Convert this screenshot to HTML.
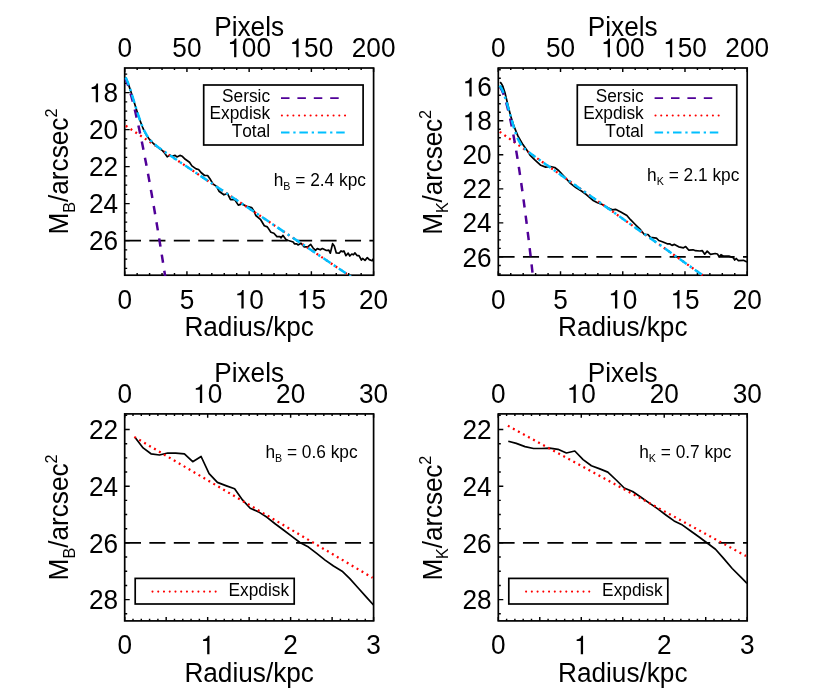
<!DOCTYPE html>
<html><head><meta charset="utf-8"><title>Surface brightness profiles</title>
<style>html,body{margin:0;padding:0;background:#fff}svg{display:block;will-change:transform}text{font-family:"Liberation Sans", sans-serif;fill:#000;font-kerning:none}</style></head><body>
<svg width="830" height="691" viewBox="0 0 830 691">
<rect width="830" height="691" fill="#fff"/>
<clipPath id="cTL"><rect x="123.80" y="67.10" width="250.70" height="209.00"/></clipPath>
<path d="M124.70,275.20v-3.90M137.15,275.20v-2.10M149.59,275.20v-2.10M162.03,275.20v-2.10M174.48,275.20v-2.10M186.93,275.20v-3.90M199.37,275.20v-2.10M211.81,275.20v-2.10M224.26,275.20v-2.10M236.71,275.20v-2.10M249.15,275.20v-3.90M261.60,275.20v-2.10M274.04,275.20v-2.10M286.49,275.20v-2.10M298.93,275.20v-2.10M311.38,275.20v-3.90M323.82,275.20v-2.10M336.26,275.20v-2.10M348.71,275.20v-2.10M361.16,275.20v-2.10M373.60,275.20v-3.90M124.70,68.00v3.90M137.15,68.00v2.10M149.59,68.00v2.10M162.04,68.00v2.10M174.48,68.00v2.10M186.93,68.00v3.90M199.37,68.00v2.10M211.82,68.00v2.10M224.26,68.00v2.10M236.71,68.00v2.10M249.15,68.00v3.90M261.60,68.00v2.10M274.04,68.00v2.10M286.49,68.00v2.10M298.93,68.00v2.10M311.38,68.00v3.90M323.82,68.00v2.10M336.27,68.00v2.10M348.71,68.00v2.10M361.16,68.00v2.10M373.60,68.00v3.90M124.70,74.10h2.50M124.70,83.35h2.50M124.70,92.60h5.00M124.70,101.85h2.50M124.70,111.10h2.50M124.70,120.35h2.50M124.70,129.60h5.00M124.70,138.85h2.50M124.70,148.10h2.50M124.70,157.35h2.50M124.70,166.60h5.00M124.70,175.85h2.50M124.70,185.10h2.50M124.70,194.35h2.50M124.70,203.60h5.00M124.70,212.85h2.50M124.70,222.10h2.50M124.70,231.35h2.50M124.70,240.60h5.00M124.70,249.85h2.50M124.70,259.10h2.50M124.70,268.35h2.50" fill="none" stroke="#000" stroke-width="1.44"/>
<rect x="124.70" y="68.00" width="248.90" height="207.20" fill="none" stroke="#000" stroke-width="1.7"/>
<text transform="translate(124.70,308.60) scale(1,1.04)" text-anchor="middle" font-size="26.2">0</text>
<text transform="translate(186.93,308.60) scale(1,1.04)" text-anchor="middle" font-size="26.2">5</text>
<path transform="translate(234.58,308.60) scale(26.2,-26.2)" d="M.259,.505L.259,0L.347,0L.347,.709L.289,.709C.272,.625 .215,.575 .102,.568L.102,.505Z"/>
<text transform="translate(249.15,308.60) scale(1,1.04)" font-size="26.2">0</text>
<path transform="translate(296.80,308.60) scale(26.2,-26.2)" d="M.259,.505L.259,0L.347,0L.347,.709L.289,.709C.272,.625 .215,.575 .102,.568L.102,.505Z"/>
<text transform="translate(311.38,308.60) scale(1,1.04)" font-size="26.2">5</text>
<text transform="translate(373.60,308.60) scale(1,1.04)" text-anchor="middle" font-size="26.2">20</text>
<text transform="translate(124.70,57.20) scale(1,1.04)" text-anchor="middle" font-size="26.2">0</text>
<text transform="translate(186.93,57.20) scale(1,1.04)" text-anchor="middle" font-size="26.2">50</text>
<path transform="translate(227.29,57.20) scale(26.2,-26.2)" d="M.259,.505L.259,0L.347,0L.347,.709L.289,.709C.272,.625 .215,.575 .102,.568L.102,.505Z"/>
<text transform="translate(241.86,57.20) scale(1,1.04)" font-size="26.2">0</text>
<text transform="translate(256.44,57.20) scale(1,1.04)" font-size="26.2">0</text>
<path transform="translate(289.52,57.20) scale(26.2,-26.2)" d="M.259,.505L.259,0L.347,0L.347,.709L.289,.709C.272,.625 .215,.575 .102,.568L.102,.505Z"/>
<text transform="translate(304.09,57.20) scale(1,1.04)" font-size="26.2">5</text>
<text transform="translate(318.66,57.20) scale(1,1.04)" font-size="26.2">0</text>
<text transform="translate(373.60,57.20) scale(1,1.04)" text-anchor="middle" font-size="26.2">200</text>
<path transform="translate(88.96,102.20) scale(26.2,-26.2)" d="M.259,.505L.259,0L.347,0L.347,.709L.289,.709C.272,.625 .215,.575 .102,.568L.102,.505Z"/>
<text transform="translate(103.53,102.20) scale(1,1.04)" font-size="26.2">8</text>
<text transform="translate(118.10,139.20) scale(1,1.04)" text-anchor="end" font-size="26.2">20</text>
<text transform="translate(118.10,176.20) scale(1,1.04)" text-anchor="end" font-size="26.2">22</text>
<text transform="translate(118.10,213.20) scale(1,1.04)" text-anchor="end" font-size="26.2">24</text>
<text transform="translate(118.10,250.20) scale(1,1.04)" text-anchor="end" font-size="26.2">26</text>
<text transform="translate(249.15,335.90) scale(1,1.02)" text-anchor="middle" font-size="26.2">Radius/kpc</text>
<text transform="translate(249.15,35.70) scale(1,1.02)" text-anchor="middle" font-size="26.2">Pixels</text>
<text transform="translate(68.3,171.6) rotate(-90) scale(1,1.03)" text-anchor="middle" font-size="26.2">M<tspan font-size="16.2" dy="6.2">B</tspan><tspan dy="-6.2">/arcsec</tspan><tspan font-size="16.2" dy="-10.5">2</tspan></text>
<g clip-path="url(#cTL)">
<path d="M124.90,240.60H373.60" stroke="#000" stroke-width="1.8" stroke-dasharray="16.1 8.35" fill="none"/>
<polyline points="125.5,77.5 126.5,79.5 127.5,81.9 128.5,84.6 129.5,87.4 130.5,90.4 131.5,93.5 132.5,96.7 133.5,100.0 134.5,103.3 135.5,106.6 136.5,109.8 137.5,113.0 138.5,116.0 139.5,119.0 140.5,121.8 141.5,124.5 142.5,127.0 143.5,129.3 144.5,131.4 145.5,133.3 146.5,135.1 147.5,136.7 148.5,138.1 149.5,139.4 150.5,140.6 151.5,141.7 152.5,142.7 153.5,143.6 154.5,144.5 155.5,145.4 156.5,146.2 157.5,146.9 158.5,147.7 159.5,148.4 160.5,149.1 161.5,149.9 162.5,150.6 164.8,153.3 167.2,156.9 169.6,155.1 172.0,156.3 175.1,155.4 176.9,156.9 179.9,155.4 182.3,156.3 185.3,159.3 189.5,162.3 191.9,165.9 196.1,168.9 198.6,169.5 201.0,172.5 204.6,175.5 207.6,175.5 210.6,179.8 213.0,184.0 216.6,186.4 219.0,191.2 223.9,194.8 227.5,193.6 230.5,199.6 234.7,199.6 238.3,205.1 241.9,203.9 246.7,206.3 251.6,207.5 254.0,211.3 255.8,215.5 260.7,219.7 264.3,225.7 267.3,226.9 270.9,232.3 273.9,233.3 276.9,236.6 279.9,236.6 281.1,237.8 283.0,235.4 286.0,239.6 288.4,240.5 293.2,242.0 294.4,243.8 296.8,243.8 298.0,245.0 301.0,243.2 304.0,246.8 307.7,246.8 310.7,244.4 313.1,248.0 315.5,250.4 317.3,248.6 320.3,249.8 322.4,248.5 326.4,250.5 328.8,250.1 330.3,253.2 332.6,243.7 334.3,246.1 336.3,252.9 339.1,253.2 341.1,250.9 342.7,251.7 343.9,250.9 345.9,255.6 348.2,253.2 349.8,256.0 351.8,254.0 353.4,254.8 355.0,252.9 357.0,255.6 359.0,255.6 361.4,260.0 362.6,258.4 365.0,260.4 367.3,257.6 369.3,259.6 372.1,260.8 373.4,258.8" fill="none" stroke="#000" stroke-width="1.7" stroke-linejoin="round"/>
<polyline points="125.8,125.8 352.0,277.4" fill="none" stroke="#ff0000" stroke-width="2.25" stroke-dasharray="1.95 3.79"/>
<polyline points="125.3,78.8 125.8,79.7 126.3,80.8 126.8,82.0 127.3,83.3 127.8,84.7 128.3,86.1 128.8,87.7 129.3,89.2 129.8,90.9 130.3,92.6 130.8,94.3 131.3,96.1 131.8,97.9 132.3,99.8 132.8,101.7 133.3,103.7 133.8,105.7 134.3,107.7 134.8,109.8 135.3,111.8 135.8,114.0 136.3,116.1 136.8,118.3 137.3,120.5 137.8,122.8 138.3,125.0 138.8,127.3 139.3,129.6 139.8,132.0 140.3,134.4 140.8,136.8 141.3,139.2 141.8,141.6 142.3,144.1 142.8,146.6 143.3,149.1 143.8,151.6 144.3,154.2 144.8,156.8 145.3,159.4 145.8,162.0 146.3,164.6 146.8,167.3 147.3,169.9 147.8,172.6 148.3,175.3 148.8,178.1 149.3,180.8 149.8,183.6 150.3,186.4 150.8,189.2 151.3,192.0 151.8,194.8 152.3,197.7 152.8,200.6 153.3,203.5 153.8,206.4 154.3,209.3 154.8,212.2 155.3,215.2 155.8,218.1 156.3,221.1 156.8,224.1 157.3,227.1 157.8,230.1 158.3,233.2 158.8,236.2 159.3,239.3 159.8,242.4 160.3,245.5 160.8,248.6 161.3,251.7 161.8,254.9 162.3,258.0 162.8,261.2 163.3,264.4 163.8,267.6 164.3,270.8 164.8,274.0 165.3,277.2" fill="none" stroke="#500098" stroke-width="2.5" stroke-dasharray="8.3 8.1" stroke-dashoffset="0.6"/>
<polyline points="125.6,77.4 126.6,79.4 127.6,81.9 128.6,84.5 129.6,87.4 130.6,90.4 131.6,93.6 132.6,96.8 133.6,100.0 134.6,103.3 135.6,106.6 136.6,109.8 137.6,113.0 138.6,116.1 139.6,119.0 140.6,121.8 141.6,124.5 142.6,126.9 143.6,129.2 144.6,131.3 145.6,133.2 146.6,134.9 147.6,136.5 148.6,137.9 149.6,139.2 150.6,140.4 151.6,141.5 152.6,142.5 153.6,143.4 154.6,144.3 155.6,145.1 156.6,145.9 157.6,146.7 158.6,147.5 159.6,148.2 160.6,148.9 161.6,149.6 162.6,150.3 163.6,151.0 164.6,151.7 165.6,152.4 166.6,153.1 167.6,153.7 168.6,154.4 169.6,155.1 170.6,155.8 171.6,156.4 172.6,157.1 173.6,157.8 174.6,158.5 175.6,159.1 176.6,159.8 177.6,160.5 178.6,161.1 179.6,161.8 180.6,162.5 181.6,163.2 182.6,163.8 183.6,164.5 184.6,165.2 352.0,277.4" fill="none" stroke="#00bfff" stroke-width="2.5" stroke-dasharray="8.5 3.85 2.3 3.85"/>
</g>
<rect x="203.7" y="85.0" width="159.4" height="60.0" fill="#fff" stroke="#000" stroke-width="1.7"/>
<text transform="translate(270.10,102.00) scale(1,1.03)" text-anchor="end" font-size="17.3">Sersic</text>
<text transform="translate(270.10,119.30) scale(1,1.03)" text-anchor="end" font-size="17.3">Expdisk</text>
<text transform="translate(270.10,136.60) scale(1,1.03)" text-anchor="end" font-size="17.3">Total</text>
<path d="M281.0,98.1h57.7" stroke="#500098" stroke-width="1.9" stroke-dasharray="8.5 7.9" fill="none"/>
<path d="M281.9,115.5h63.24" stroke="#ff0000" stroke-width="2.1" stroke-linecap="round" stroke-dasharray="0.01 5.73" fill="none"/>
<path d="M281.0,132.5h63.7" stroke="#00bfff" stroke-width="1.9" stroke-dasharray="8.5 3.8 2.3 3.8" fill="none"/>
<text transform="translate(273.7,185.8) scale(1,1.03)" font-size="17.3">h<tspan font-size="10.7" dy="3.9">B</tspan><tspan dy="-3.9"> = 2.4 kpc</tspan></text>
<clipPath id="cTR"><rect x="497.40" y="67.10" width="250.70" height="209.00"/></clipPath>
<path d="M498.30,275.20v-3.90M510.75,275.20v-2.10M523.19,275.20v-2.10M535.63,275.20v-2.10M548.08,275.20v-2.10M560.52,275.20v-3.90M572.97,275.20v-2.10M585.41,275.20v-2.10M597.86,275.20v-2.10M610.31,275.20v-2.10M622.75,275.20v-3.90M635.20,275.20v-2.10M647.64,275.20v-2.10M660.09,275.20v-2.10M672.53,275.20v-2.10M684.98,275.20v-3.90M697.42,275.20v-2.10M709.87,275.20v-2.10M722.31,275.20v-2.10M734.75,275.20v-2.10M747.20,275.20v-3.90M498.30,68.00v3.90M510.75,68.00v2.10M523.19,68.00v2.10M535.63,68.00v2.10M548.08,68.00v2.10M560.52,68.00v3.90M572.97,68.00v2.10M585.42,68.00v2.10M597.86,68.00v2.10M610.31,68.00v2.10M622.75,68.00v3.90M635.20,68.00v2.10M647.64,68.00v2.10M660.09,68.00v2.10M672.53,68.00v2.10M684.98,68.00v3.90M697.42,68.00v2.10M709.87,68.00v2.10M722.31,68.00v2.10M734.76,68.00v2.10M747.20,68.00v3.90M498.30,69.79h2.50M498.30,78.30h2.50M498.30,86.80h5.00M498.30,95.30h2.50M498.30,103.81h2.50M498.30,112.31h2.50M498.30,120.82h5.00M498.30,129.32h2.50M498.30,137.83h2.50M498.30,146.34h2.50M498.30,154.84h5.00M498.30,163.34h2.50M498.30,171.85h2.50M498.30,180.36h2.50M498.30,188.86h5.00M498.30,197.37h2.50M498.30,205.87h2.50M498.30,214.38h2.50M498.30,222.88h5.00M498.30,231.38h2.50M498.30,239.89h2.50M498.30,248.40h2.50M498.30,256.90h5.00M498.30,265.41h2.50M498.30,273.91h2.50" fill="none" stroke="#000" stroke-width="1.44"/>
<rect x="498.30" y="68.00" width="248.90" height="207.20" fill="none" stroke="#000" stroke-width="1.7"/>
<text transform="translate(498.30,308.60) scale(1,1.04)" text-anchor="middle" font-size="26.2">0</text>
<text transform="translate(560.52,308.60) scale(1,1.04)" text-anchor="middle" font-size="26.2">5</text>
<path transform="translate(608.18,308.60) scale(26.2,-26.2)" d="M.259,.505L.259,0L.347,0L.347,.709L.289,.709C.272,.625 .215,.575 .102,.568L.102,.505Z"/>
<text transform="translate(622.75,308.60) scale(1,1.04)" font-size="26.2">0</text>
<path transform="translate(670.40,308.60) scale(26.2,-26.2)" d="M.259,.505L.259,0L.347,0L.347,.709L.289,.709C.272,.625 .215,.575 .102,.568L.102,.505Z"/>
<text transform="translate(684.98,308.60) scale(1,1.04)" font-size="26.2">5</text>
<text transform="translate(747.20,308.60) scale(1,1.04)" text-anchor="middle" font-size="26.2">20</text>
<text transform="translate(498.30,57.20) scale(1,1.04)" text-anchor="middle" font-size="26.2">0</text>
<text transform="translate(560.52,57.20) scale(1,1.04)" text-anchor="middle" font-size="26.2">50</text>
<path transform="translate(600.89,57.20) scale(26.2,-26.2)" d="M.259,.505L.259,0L.347,0L.347,.709L.289,.709C.272,.625 .215,.575 .102,.568L.102,.505Z"/>
<text transform="translate(615.46,57.20) scale(1,1.04)" font-size="26.2">0</text>
<text transform="translate(630.04,57.20) scale(1,1.04)" font-size="26.2">0</text>
<path transform="translate(663.12,57.20) scale(26.2,-26.2)" d="M.259,.505L.259,0L.347,0L.347,.709L.289,.709C.272,.625 .215,.575 .102,.568L.102,.505Z"/>
<text transform="translate(677.69,57.20) scale(1,1.04)" font-size="26.2">5</text>
<text transform="translate(692.26,57.20) scale(1,1.04)" font-size="26.2">0</text>
<text transform="translate(747.20,57.20) scale(1,1.04)" text-anchor="middle" font-size="26.2">200</text>
<path transform="translate(462.56,96.40) scale(26.2,-26.2)" d="M.259,.505L.259,0L.347,0L.347,.709L.289,.709C.272,.625 .215,.575 .102,.568L.102,.505Z"/>
<text transform="translate(477.13,96.40) scale(1,1.04)" font-size="26.2">6</text>
<path transform="translate(462.56,130.42) scale(26.2,-26.2)" d="M.259,.505L.259,0L.347,0L.347,.709L.289,.709C.272,.625 .215,.575 .102,.568L.102,.505Z"/>
<text transform="translate(477.13,130.42) scale(1,1.04)" font-size="26.2">8</text>
<text transform="translate(491.70,164.44) scale(1,1.04)" text-anchor="end" font-size="26.2">20</text>
<text transform="translate(491.70,198.46) scale(1,1.04)" text-anchor="end" font-size="26.2">22</text>
<text transform="translate(491.70,232.48) scale(1,1.04)" text-anchor="end" font-size="26.2">24</text>
<text transform="translate(491.70,266.50) scale(1,1.04)" text-anchor="end" font-size="26.2">26</text>
<text transform="translate(622.75,335.90) scale(1,1.02)" text-anchor="middle" font-size="26.2">Radius/kpc</text>
<text transform="translate(622.75,35.70) scale(1,1.02)" text-anchor="middle" font-size="26.2">Pixels</text>
<text transform="translate(441.9,172.4) rotate(-90) scale(1,1.03)" text-anchor="middle" font-size="26.2" letter-spacing="-0.13">M<tspan font-size="16.2" dy="6.2">K</tspan><tspan dy="-6.2">/arcsec</tspan><tspan font-size="16.2" dy="-10.5">2</tspan></text>
<g clip-path="url(#cTR)">
<path d="M498.50,256.90H747.20" stroke="#000" stroke-width="1.8" stroke-dasharray="16.1 8.35" fill="none"/>
<polyline points="500.1,82.1 501.4,83.6 502.7,86.0 504.9,92.5 507.7,104.1 510.6,115.7 514.3,127.2 517.9,135.9 522.9,144.6 528.0,151.8 530.0,155.1 534.8,159.9 540.8,165.3 545.7,167.1 550.5,166.5 554.7,167.5 558.9,170.7 564.9,177.3 569.8,182.8 575.8,187.6 581.8,191.2 586.6,194.8 592.7,200.2 597.5,202.7 602.3,204.5 608.3,208.1 612.5,209.9 615.5,209.3 620.8,211.9 626.9,215.5 630.5,219.7 635.3,224.5 640.7,229.9 644.3,234.5 648.0,234.5 650.4,237.4 656.4,238.1 658.8,240.5 663.0,242.0 667.2,243.8 669.6,243.8 672.0,245.4 674.5,244.4 678.7,246.8 683.5,247.8 685.7,246.6 688.9,250.2 693.1,249.8 695.5,250.7 699.8,251.0 702.2,250.6 704.7,254.2 707.2,251.1 710.5,254.4 715.2,253.5 717.4,254.0 719.2,256.7 721.0,254.7 723.2,256.0 728.9,256.1 733.3,257.8 734.7,260.0 736.2,258.5 738.4,260.7 743.4,260.3 747.0,262.1" fill="none" stroke="#000" stroke-width="1.7" stroke-linejoin="round"/>
<polyline points="499.7,131.8 706.0,277.6" fill="none" stroke="#ff0000" stroke-width="2.25" stroke-dasharray="1.95 3.79"/>
<polyline points="499.6,86.6 500.1,87.2 500.6,87.9 501.1,88.8 501.6,89.7 502.1,90.8 502.6,91.9 503.1,93.1 503.6,94.5 504.1,95.9 504.6,97.4 505.1,98.9 505.6,100.6 506.1,102.3 506.6,104.1 507.1,106.0 507.6,107.9 508.1,109.9 508.6,112.0 509.1,114.1 509.6,116.3 510.1,118.5 510.6,120.8 511.1,123.2 511.6,125.7 512.1,128.2 512.6,130.7 513.1,133.3 513.6,136.0 514.1,138.7 514.6,141.5 515.1,144.3 515.6,147.2 516.1,150.1 516.6,153.1 517.1,156.1 517.6,159.2 518.1,162.4 518.6,165.6 519.1,168.8 519.6,172.1 520.1,175.4 520.6,178.8 521.1,182.2 521.6,185.7 522.1,189.2 522.6,192.8 523.1,196.4 523.6,200.1 524.1,203.8 524.6,207.6 525.1,211.4 525.6,215.2 526.1,219.1 526.6,223.0 527.1,227.0 527.6,231.0 528.1,235.1 528.6,239.2 529.1,243.3 529.6,247.5 530.1,251.8 530.6,256.0 531.1,260.4 531.6,264.7 532.1,269.1 532.6,273.5 533.1,278.0" fill="none" stroke="#500098" stroke-width="2.5" stroke-dasharray="8.3 8.1" stroke-dashoffset="-0.9"/>
<polyline points="499.6,85.4 500.6,86.8 501.6,88.6 502.6,90.8 503.6,93.2 504.6,96.0 505.6,98.9 506.6,102.1 507.6,105.5 508.6,109.0 509.6,112.5 510.6,116.1 511.6,119.7 512.6,123.3 513.6,126.7 514.6,129.9 515.6,132.9 516.6,135.7 517.6,138.2 518.6,140.3 519.6,142.2 520.6,143.9 521.6,145.3 522.6,146.6 523.6,147.7 524.6,148.7 525.6,149.6 526.6,150.5 527.6,151.3 528.6,152.1 529.6,152.8 530.6,153.6 531.6,154.3 532.6,155.0 533.6,155.7 534.6,156.4 535.6,157.1 536.6,157.9 537.6,158.6 538.6,159.3 539.6,160.0 540.6,160.7 541.6,161.4 542.6,162.1 543.6,162.8 544.6,163.5 545.6,164.2 546.6,164.9 547.6,165.6 548.6,166.3 549.6,167.0 550.6,167.8 551.6,168.5 552.6,169.2 553.6,169.9 554.6,170.6 555.6,171.3 556.6,172.0 557.6,172.7 558.6,173.4 706.0,277.6" fill="none" stroke="#00bfff" stroke-width="2.5" stroke-dasharray="8.5 3.85 2.3 3.85"/>
</g>
<rect x="577.3" y="85.0" width="159.4" height="60.0" fill="#fff" stroke="#000" stroke-width="1.7"/>
<text transform="translate(643.70,102.00) scale(1,1.03)" text-anchor="end" font-size="17.3">Sersic</text>
<text transform="translate(643.70,119.30) scale(1,1.03)" text-anchor="end" font-size="17.3">Expdisk</text>
<text transform="translate(643.70,136.60) scale(1,1.03)" text-anchor="end" font-size="17.3">Total</text>
<path d="M654.6,98.1h57.7" stroke="#500098" stroke-width="1.9" stroke-dasharray="8.5 7.9" fill="none"/>
<path d="M655.5,115.5h63.24" stroke="#ff0000" stroke-width="2.1" stroke-linecap="round" stroke-dasharray="0.01 5.73" fill="none"/>
<path d="M654.6,132.5h63.7" stroke="#00bfff" stroke-width="1.9" stroke-dasharray="8.5 3.8 2.3 3.8" fill="none"/>
<text transform="translate(647.1,181.1) scale(1,1.03)" font-size="17.3">h<tspan font-size="10.7" dy="3.9">K</tspan><tspan dy="-3.9"> = 2.1 kpc</tspan></text>
<clipPath id="cBL"><rect x="123.80" y="413.00" width="250.70" height="208.80"/></clipPath>
<path d="M124.70,620.90v-3.90M133.00,620.90v-2.10M141.29,620.90v-2.10M149.59,620.90v-2.10M157.89,620.90v-2.10M166.18,620.90v-3.90M174.48,620.90v-2.10M182.78,620.90v-2.10M191.07,620.90v-2.10M199.37,620.90v-2.10M207.67,620.90v-3.90M215.96,620.90v-2.10M224.26,620.90v-2.10M232.56,620.90v-2.10M240.85,620.90v-2.10M249.15,620.90v-3.90M257.45,620.90v-2.10M265.74,620.90v-2.10M274.04,620.90v-2.10M282.34,620.90v-2.10M290.63,620.90v-3.90M298.93,620.90v-2.10M307.23,620.90v-2.10M315.52,620.90v-2.10M323.82,620.90v-2.10M332.12,620.90v-3.90M340.41,620.90v-2.10M348.71,620.90v-2.10M357.01,620.90v-2.10M365.30,620.90v-2.10M373.60,620.90v-3.90M124.70,413.90v3.90M133.00,413.90v2.10M141.29,413.90v2.10M149.59,413.90v2.10M157.89,413.90v2.10M166.18,413.90v2.10M174.48,413.90v2.10M182.78,413.90v2.10M191.07,413.90v2.10M199.37,413.90v2.10M207.67,413.90v3.90M215.96,413.90v2.10M224.26,413.90v2.10M232.56,413.90v2.10M240.85,413.90v2.10M249.15,413.90v2.10M257.45,413.90v2.10M265.74,413.90v2.10M274.04,413.90v2.10M282.34,413.90v2.10M290.63,413.90v3.90M298.93,413.90v2.10M307.23,413.90v2.10M315.52,413.90v2.10M323.82,413.90v2.10M332.12,413.90v2.10M340.41,413.90v2.10M348.71,413.90v2.10M357.01,413.90v2.10M365.30,413.90v2.10M373.60,413.90v3.90M124.70,415.32h2.50M124.70,429.50h5.00M124.70,443.68h2.50M124.70,457.85h2.50M124.70,472.02h2.50M124.70,486.20h5.00M124.70,500.38h2.50M124.70,514.55h2.50M124.70,528.73h2.50M124.70,542.90h5.00M124.70,557.08h2.50M124.70,571.25h2.50M124.70,585.42h2.50M124.70,599.60h5.00M124.70,613.77h2.50" fill="none" stroke="#000" stroke-width="1.44"/>
<rect x="124.70" y="413.90" width="248.90" height="207.00" fill="none" stroke="#000" stroke-width="1.7"/>
<text transform="translate(124.70,654.30) scale(1,1.04)" text-anchor="middle" font-size="26.2">0</text>
<path transform="translate(200.38,654.30) scale(26.2,-26.2)" d="M.259,.505L.259,0L.347,0L.347,.709L.289,.709C.272,.625 .215,.575 .102,.568L.102,.505Z"/>
<text transform="translate(290.63,654.30) scale(1,1.04)" text-anchor="middle" font-size="26.2">2</text>
<text transform="translate(373.60,654.30) scale(1,1.04)" text-anchor="middle" font-size="26.2">3</text>
<text transform="translate(124.70,403.10) scale(1,1.04)" text-anchor="middle" font-size="26.2">0</text>
<path transform="translate(193.09,403.10) scale(26.2,-26.2)" d="M.259,.505L.259,0L.347,0L.347,.709L.289,.709C.272,.625 .215,.575 .102,.568L.102,.505Z"/>
<text transform="translate(207.67,403.10) scale(1,1.04)" font-size="26.2">0</text>
<text transform="translate(290.63,403.10) scale(1,1.04)" text-anchor="middle" font-size="26.2">20</text>
<text transform="translate(373.60,403.10) scale(1,1.04)" text-anchor="middle" font-size="26.2">30</text>
<text transform="translate(118.10,439.10) scale(1,1.04)" text-anchor="end" font-size="26.2">22</text>
<text transform="translate(118.10,495.80) scale(1,1.04)" text-anchor="end" font-size="26.2">24</text>
<text transform="translate(118.10,552.50) scale(1,1.04)" text-anchor="end" font-size="26.2">26</text>
<text transform="translate(118.10,609.20) scale(1,1.04)" text-anchor="end" font-size="26.2">28</text>
<text transform="translate(249.15,681.60) scale(1,1.02)" text-anchor="middle" font-size="26.2">Radius/kpc</text>
<text transform="translate(249.15,381.60) scale(1,1.02)" text-anchor="middle" font-size="26.2">Pixels</text>
<text transform="translate(68.3,517.4) rotate(-90) scale(1,1.03)" text-anchor="middle" font-size="26.2">M<tspan font-size="16.2" dy="6.2">B</tspan><tspan dy="-6.2">/arcsec</tspan><tspan font-size="16.2" dy="-10.5">2</tspan></text>
<g clip-path="url(#cBL)">
<path d="M124.90,542.90H373.60" stroke="#000" stroke-width="1.8" stroke-dasharray="16.1 8.35" fill="none"/>
<polyline points="135.1,437.4 143.1,447.9 151.0,453.8 159.5,455.0 167.7,453.0 175.7,453.1 184.4,453.8 192.7,461.7 201.1,456.5 209.1,473.6 217.4,482.4 225.8,485.6 234.6,488.8 242.5,499.9 250.2,508.3 258.6,511.9 267.0,517.3 275.4,524.0 283.8,530.3 292.2,536.6 299.9,542.5 308.5,547.1 316.7,553.4 325.1,560.1 333.5,566.0 342.1,571.2 349.8,578.6 358.2,588.0 366.6,597.4 373.5,605.0" fill="none" stroke="#000" stroke-width="1.7" stroke-linejoin="round"/>
<polyline points="134.3,436.9 372.6,577.8" fill="none" stroke="#ff0000" stroke-width="2.25" stroke-dasharray="1.95 3.79"/>
</g>
<rect x="135.2" y="578.4" width="159.0" height="25.6" fill="#fff" stroke="#000" stroke-width="1.7"/>
<text transform="translate(228.50,595.50) scale(1,1.03)" font-size="17.3">Expdisk</text>
<path d="M152.5,591.6h63.24" stroke="#ff0000" stroke-width="2.1" stroke-linecap="round" stroke-dasharray="0.01 5.73" fill="none"/>
<text transform="translate(265.4,457.9) scale(1,1.03)" font-size="17.3">h<tspan font-size="10.7" dy="3.9">B</tspan><tspan dy="-3.9"> = 0.6 kpc</tspan></text>
<clipPath id="cBR"><rect x="497.40" y="413.00" width="250.70" height="208.80"/></clipPath>
<path d="M498.30,620.90v-3.90M506.60,620.90v-2.10M514.89,620.90v-2.10M523.19,620.90v-2.10M531.49,620.90v-2.10M539.78,620.90v-3.90M548.08,620.90v-2.10M556.38,620.90v-2.10M564.67,620.90v-2.10M572.97,620.90v-2.10M581.27,620.90v-3.90M589.56,620.90v-2.10M597.86,620.90v-2.10M606.16,620.90v-2.10M614.45,620.90v-2.10M622.75,620.90v-3.90M631.05,620.90v-2.10M639.34,620.90v-2.10M647.64,620.90v-2.10M655.94,620.90v-2.10M664.23,620.90v-3.90M672.53,620.90v-2.10M680.83,620.90v-2.10M689.12,620.90v-2.10M697.42,620.90v-2.10M705.72,620.90v-3.90M714.01,620.90v-2.10M722.31,620.90v-2.10M730.61,620.90v-2.10M738.90,620.90v-2.10M747.20,620.90v-3.90M498.30,413.90v3.90M506.60,413.90v2.10M514.89,413.90v2.10M523.19,413.90v2.10M531.49,413.90v2.10M539.78,413.90v2.10M548.08,413.90v2.10M556.38,413.90v2.10M564.67,413.90v2.10M572.97,413.90v2.10M581.27,413.90v3.90M589.56,413.90v2.10M597.86,413.90v2.10M606.16,413.90v2.10M614.45,413.90v2.10M622.75,413.90v2.10M631.05,413.90v2.10M639.34,413.90v2.10M647.64,413.90v2.10M655.94,413.90v2.10M664.23,413.90v3.90M672.53,413.90v2.10M680.83,413.90v2.10M689.12,413.90v2.10M697.42,413.90v2.10M705.72,413.90v2.10M714.01,413.90v2.10M722.31,413.90v2.10M730.61,413.90v2.10M738.90,413.90v2.10M747.20,413.90v3.90M498.30,415.32h2.50M498.30,429.50h5.00M498.30,443.68h2.50M498.30,457.85h2.50M498.30,472.02h2.50M498.30,486.20h5.00M498.30,500.38h2.50M498.30,514.55h2.50M498.30,528.73h2.50M498.30,542.90h5.00M498.30,557.08h2.50M498.30,571.25h2.50M498.30,585.42h2.50M498.30,599.60h5.00M498.30,613.77h2.50" fill="none" stroke="#000" stroke-width="1.44"/>
<rect x="498.30" y="413.90" width="248.90" height="207.00" fill="none" stroke="#000" stroke-width="1.7"/>
<text transform="translate(498.30,654.30) scale(1,1.04)" text-anchor="middle" font-size="26.2">0</text>
<path transform="translate(573.98,654.30) scale(26.2,-26.2)" d="M.259,.505L.259,0L.347,0L.347,.709L.289,.709C.272,.625 .215,.575 .102,.568L.102,.505Z"/>
<text transform="translate(664.23,654.30) scale(1,1.04)" text-anchor="middle" font-size="26.2">2</text>
<text transform="translate(747.20,654.30) scale(1,1.04)" text-anchor="middle" font-size="26.2">3</text>
<text transform="translate(498.30,403.10) scale(1,1.04)" text-anchor="middle" font-size="26.2">0</text>
<path transform="translate(566.69,403.10) scale(26.2,-26.2)" d="M.259,.505L.259,0L.347,0L.347,.709L.289,.709C.272,.625 .215,.575 .102,.568L.102,.505Z"/>
<text transform="translate(581.27,403.10) scale(1,1.04)" font-size="26.2">0</text>
<text transform="translate(664.23,403.10) scale(1,1.04)" text-anchor="middle" font-size="26.2">20</text>
<text transform="translate(747.20,403.10) scale(1,1.04)" text-anchor="middle" font-size="26.2">30</text>
<text transform="translate(491.70,439.10) scale(1,1.04)" text-anchor="end" font-size="26.2">22</text>
<text transform="translate(491.70,495.80) scale(1,1.04)" text-anchor="end" font-size="26.2">24</text>
<text transform="translate(491.70,552.50) scale(1,1.04)" text-anchor="end" font-size="26.2">26</text>
<text transform="translate(491.70,609.20) scale(1,1.04)" text-anchor="end" font-size="26.2">28</text>
<text transform="translate(622.75,681.60) scale(1,1.02)" text-anchor="middle" font-size="26.2">Radius/kpc</text>
<text transform="translate(622.75,381.60) scale(1,1.02)" text-anchor="middle" font-size="26.2">Pixels</text>
<text transform="translate(441.9,518.2) rotate(-90) scale(1,1.03)" text-anchor="middle" font-size="26.2" letter-spacing="-0.13">M<tspan font-size="16.2" dy="6.2">K</tspan><tspan dy="-6.2">/arcsec</tspan><tspan font-size="16.2" dy="-10.5">2</tspan></text>
<g clip-path="url(#cBR)">
<path d="M498.50,542.90H747.20" stroke="#000" stroke-width="1.8" stroke-dasharray="16.1 8.35" fill="none"/>
<polyline points="508.3,441.3 516.3,443.4 525.0,446.6 533.5,448.5 541.7,448.5 549.7,448.2 558.0,449.3 566.4,453.0 574.8,451.0 583.1,459.6 591.4,465.7 599.8,468.9 607.8,472.1 616.2,480.0 624.2,488.0 632.6,491.5 641.0,497.2 649.4,503.1 657.8,508.9 666.2,515.2 674.1,520.9 682.5,525.1 690.7,531.0 699.1,537.0 707.5,543.3 715.5,549.2 723.8,558.6 732.2,568.5 740.6,576.9 747.0,583.3" fill="none" stroke="#000" stroke-width="1.7" stroke-linejoin="round"/>
<polyline points="507.9,425.7 746.0,556.0" fill="none" stroke="#ff0000" stroke-width="2.25" stroke-dasharray="1.95 3.79"/>
</g>
<rect x="508.8" y="578.4" width="159.0" height="25.6" fill="#fff" stroke="#000" stroke-width="1.7"/>
<text transform="translate(602.10,595.50) scale(1,1.03)" font-size="17.3">Expdisk</text>
<path d="M526.1,591.6h63.24" stroke="#ff0000" stroke-width="2.1" stroke-linecap="round" stroke-dasharray="0.01 5.73" fill="none"/>
<text transform="translate(639.2,457.9) scale(1,1.03)" font-size="17.3">h<tspan font-size="10.7" dy="3.9">K</tspan><tspan dy="-3.9"> = 0.7 kpc</tspan></text>
</svg></body></html>
